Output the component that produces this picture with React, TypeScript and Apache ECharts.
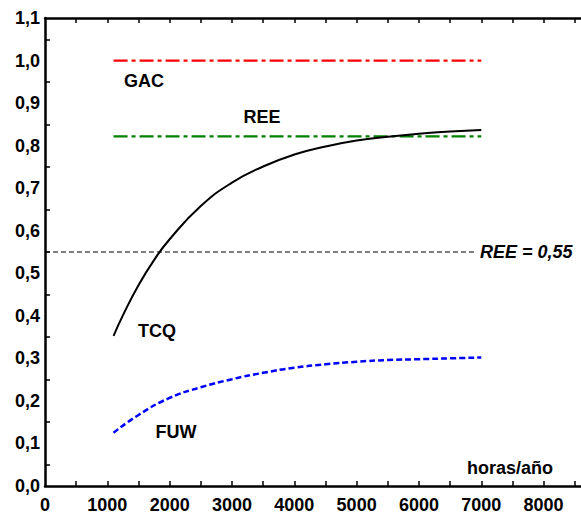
import React, { useEffect, useRef } from "react";
import * as echarts from "echarts";

const xTickLabels = [0, 1000, 2000, 3000, 4000, 5000, 6000, 7000, 8000];
const xMinorTicks = [500, 1000, 1500, 2000, 2500, 3000, 3500, 4000, 4500, 5000, 5500, 6000, 6500, 7000, 7500, 8000, 8500];
const yTickLabels = [0, 0.1, 0.2, 0.3, 0.4, 0.5, 0.6, 0.7, 0.8, 0.9, 1.0, 1.1];
const yMinorTicks = [0.05, 0.15, 0.25, 0.35, 0.45, 0.55, 0.65, 0.75, 0.85, 0.95, 1.05];

const tcqHours = [1100, 1250, 1500, 1750, 2000, 2500, 3000, 3500, 4000, 4500, 5000, 5500, 6000, 6500, 7000];
const tcqValues = [0.353, 0.401, 0.472, 0.531, 0.58, 0.658, 0.713, 0.751, 0.779, 0.798, 0.812, 0.821, 0.828, 0.833, 0.837];
const fuwHours = [1100, 1500, 2000, 2500, 3000, 3500, 4000, 4500, 5000, 5500, 6000, 6500, 7000];
const fuwValues = [0.125, 0.167, 0.207, 0.232, 0.251, 0.266, 0.278, 0.286, 0.292, 0.296, 0.298, 0.3, 0.302];
const gacHours = [1100, 7000];
const gacValues = [1.0, 1.0];
const reeHours = [1100, 7000];
const reeValues = [0.822, 0.822];
const thresholdHours = [0, 6930];
const thresholdValues = [0.55, 0.55];

const FONT = "'Liberation Sans', Arial, sans-serif";

const pairs = (xs: number[], ys: number[]) => xs.map((x, i) => [x, ys[i]]);

export default function App() {
  const ref = useRef<HTMLDivElement>(null);
  useEffect(() => {
    if (!ref.current) return;
    const chart = echarts.init(ref.current, null, { renderer: "svg" });
    const fmtY = (v: number) => v.toFixed(1).replace(".", ",");
    const lbl = (text: string, x: number, y: number, italic = false, align = "center") => ({
      type: "text",
      x,
      y,
      style: {
        text,
        font: `${italic ? "italic " : ""}bold 18px ${FONT}`,
        fill: "#000",
        textAlign: align,
        textVerticalAlign: "middle",
      },
    });
    chart.setOption({
      animation: false,
      backgroundColor: "#fff",
      grid: { left: 45, right: 0, top: 18, bottom: 32, containLabel: false },
      xAxis: [
        {
          type: "value",
          min: 0,
          max: 8600,
          position: "bottom",
          splitLine: { show: false },
          axisLine: { show: true, lineStyle: { color: "#000", width: 2.5 } },
          axisTick: { show: true, inside: true, length: 5, customValues: xMinorTicks, lineStyle: { color: "#000", width: 1.5 } },
          axisLabel: {
            show: true,
            customValues: xTickLabels,
            margin: 10,
            color: "#000",
            fontSize: 18,
            fontWeight: "bold",
            fontFamily: FONT,
            formatter: (v: number) => String(v),
          },
        },
        {
          type: "value",
          min: 0,
          max: 8600,
          position: "top",
          splitLine: { show: false },
          axisLine: { show: true, lineStyle: { color: "#000", width: 2.5 } },
          axisTick: { show: true, inside: true, length: 5, customValues: xMinorTicks, lineStyle: { color: "#000", width: 1.5 } },
          axisLabel: { show: false },
        },
      ],
      yAxis: {
        type: "value",
        min: 0,
        max: 1.1,
        splitLine: { show: false },
        axisLine: { show: true, lineStyle: { color: "#000", width: 2.5 } },
        axisTick: { show: true, inside: true, length: 5, customValues: yMinorTicks, lineStyle: { color: "#000", width: 1.5 } },
        axisLabel: {
          show: true,
          customValues: yTickLabels,
          margin: 5,
          color: "#000",
          fontSize: 18,
          fontWeight: "bold",
          fontFamily: FONT,
          formatter: fmtY,
        },
      },
      series: [
        {
          name: "REE = 0,55",
          type: "line",
          data: pairs(thresholdHours, thresholdValues),
          symbol: "none",
          lineStyle: { color: "#000", width: 1.2, type: [5, 3] },
        },
        {
          name: "GAC",
          type: "line",
          data: pairs(gacHours, gacValues),
          symbol: "none",
          lineStyle: { color: "#ff0000", width: 2.2, type: [14, 4, 4, 4] },
        },
        {
          name: "REE",
          type: "line",
          data: pairs(reeHours, reeValues),
          symbol: "none",
          lineStyle: { color: "#008000", width: 2.2, type: [14, 4, 4, 4] },
        },
        {
          name: "TCQ",
          type: "line",
          data: pairs(tcqHours, tcqValues),
          symbol: "none",
          smooth: true,
          lineStyle: { color: "#000", width: 2, type: "solid" },
        },
        {
          name: "FUW",
          type: "line",
          data: pairs(fuwHours, fuwValues),
          symbol: "none",
          smooth: true,
          lineStyle: { color: "#0000ff", width: 2.5, type: [6, 3] },
        },
      ],
      graphic: [
        lbl("GAC", 144, 81),
        lbl("REE", 262, 117),
        lbl("TCQ", 157, 331),
        lbl("FUW", 176, 432),
        lbl("REE = 0,55", 480, 252, true, "left"),
        lbl("horas/año", 510, 468),
      ],
    });
    return () => chart.dispose();
  }, []);
  return (
    <div
      ref={ref}
      style={{ position: "absolute", left: 0, top: 0, width: 581, height: 518 }}
    />
  );
}
